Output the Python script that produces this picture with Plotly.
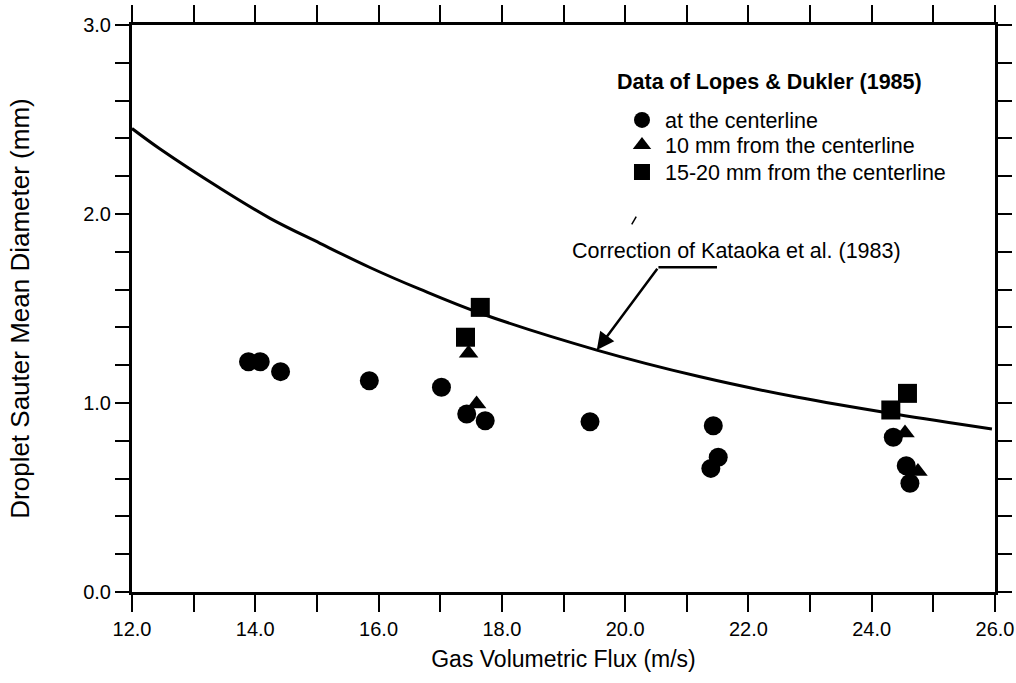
import plotly.graph_objects as go

# ---- data ----
centre_x = [13.89, 14.08, 14.41, 15.85, 17.02, 17.43, 17.73, 19.43, 21.43, 21.51, 21.39, 24.35, 24.56, 24.62]
centre_y = [1.218, 1.218, 1.166, 1.118, 1.083, 0.942, 0.906, 0.901, 0.880, 0.713, 0.654, 0.819, 0.668, 0.575]

mm10_x = [17.46, 17.59, 24.54, 24.75]
mm10_y = [1.263, 0.995, 0.841, 0.637]

mm1520_x = [17.65, 17.41, 24.31, 24.58]
mm1520_y = [1.506, 1.348, 0.963, 1.051]

curve_x = [12.0, 12.45, 13.43, 14.24, 15.05, 15.86, 16.67, 17.65, 19.54, 21.2, 22.8, 24.4, 25.95]
curve_y = [2.452, 2.345, 2.136, 1.977, 1.845, 1.717, 1.602, 1.475, 1.280, 1.140, 1.030, 0.940, 0.862]

x_ticks = [12, 13, 14, 15, 16, 17, 18, 19, 20, 21, 22, 23, 24, 25, 26]
x_ticktext = ["12.0", "", "14.0", "", "16.0", "", "18.0", "", "20.0", "", "22.0", "", "24.0", "", "26.0"]
y_ticks = [0.0, 0.2, 0.4, 0.6, 0.8, 1.0, 1.2, 1.4, 1.6, 1.8, 2.0, 2.2, 2.4, 2.6, 2.8, 3.0]
y_ticktext = ["0.0", "", "", "", "", "1.0", "", "", "", "", "2.0", "", "", "", "", "3.0"]

legend_title = "Data of Lopes & Dukler (1985)"
series_names = ["at the centerline", "10 mm from the centerline", "15-20 mm from the centerline"]
curve_label = "Correction of Kataoka et al. (1983)"

FONT = "Liberation Sans, Arial, Helvetica, sans-serif"

fig = go.Figure()

fig.add_trace(go.Scatter(x=curve_x, y=curve_y, mode="lines", line=dict(color="black", width=3, shape="spline"),
                         showlegend=False, hoverinfo="skip"))

fig.add_trace(go.Scatter(x=centre_x, y=centre_y, mode="markers", name=series_names[0], legend="legend",
                         marker=dict(symbol="circle", size=19, color="black")))
fig.add_trace(go.Scatter(x=mm10_x, y=mm10_y, mode="markers", name=series_names[1], legend="legend2",
                         marker=dict(symbol="triangle-up", size=17, color="black")))
fig.add_trace(go.Scatter(x=mm1520_x, y=mm1520_y, mode="markers", name=series_names[2], legend="legend3",
                         marker=dict(symbol="square", size=19, color="black")))

# arrow pointing at the curve
fig.add_annotation(x=19.54, y=1.28, ax=20.54, ay=1.718, xref="x", yref="y", axref="x", ayref="y",
                   showarrow=True, arrowhead=2, arrowsize=1.4, arrowwidth=2.5, arrowcolor="black", text="")
fig.add_shape(type="line", x0=20.54, y0=1.718, x1=21.49, y1=1.718, xref="x", yref="y",
              line=dict(color="black", width=2.5))
# small stray stroke above the label
fig.add_shape(type="line", x0=20.107, y0=1.945, x1=20.18, y1=1.986, xref="x", yref="y",
              line=dict(color="black", width=1.5))
fig.add_annotation(x=21.81, y=1.804, xref="x", yref="y", text=curve_label, showarrow=False,
                   font=dict(size=21.5, color="black", family=FONT), xanchor="center", yanchor="middle")

# legend title
fig.add_annotation(x=0.5597, y=0.8995, xref="paper", yref="paper", text="<b>" + legend_title + "</b>",
                   showarrow=False, xanchor="left", yanchor="middle",
                   font=dict(size=21.5, color="black", family=FONT))

axis_common = dict(showline=True, linewidth=3, linecolor="black", mirror="allticks", ticks="outside",
                   tickwidth=2, tickcolor="black", showgrid=False, zeroline=False,
                   tickfont=dict(size=20, color="black", family=FONT))

fig.update_xaxes(range=[12, 26], tickmode="array", tickvals=x_ticks, ticktext=x_ticktext, ticklen=17,
                 title=dict(text="Gas Volumetric Flux (m/s)", font=dict(size=23, color="black", family=FONT),
                            standoff=12),
                 **axis_common)
fig.update_yaxes(range=[0, 3], tickmode="array", tickvals=y_ticks, ticktext=y_ticktext, ticklen=14,
                 title=dict(text="Droplet Sauter Mean Diameter (mm)", font=dict(size=26, color="black", family=FONT),
                            standoff=47),
                 **axis_common)

leg_common = dict(x=0.5643, xanchor="left", yanchor="middle", bgcolor="rgba(0,0,0,0)",
                  font=dict(size=21.5, color="black", family=FONT), itemsizing="trace", itemwidth=36)

fig.update_layout(width=1016, height=683, margin=dict(l=132, r=21, t=25, b=91, autoexpand=False),
                  plot_bgcolor="white", paper_bgcolor="white",
                  font=dict(family=FONT, color="black"),
                  legend=dict(y=0.8325, **leg_common),
                  legend2=dict(y=0.7884, **leg_common),
                  legend3=dict(y=0.7407, **leg_common))

fig.write_html("out.html")
